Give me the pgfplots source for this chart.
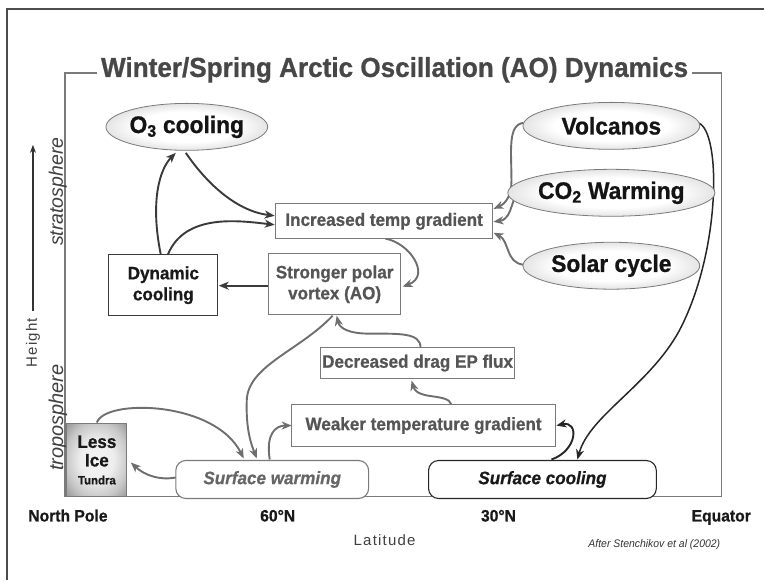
\documentclass[border=0pt]{standalone}
\usepackage{fontspec}
\setmainfont{Liberation Sans}
\newfontfamily\cf[FakeStretch=0.95, BoldFeatures={FakeBold=0.8}, BoldItalicFeatures={FakeBold=0.6}]{Liberation Sans}
\usepackage{pgfplots}
\pgfplotsset{compat=1.18}
\usetikzlibrary{arrows.meta,shapes.geometric}
\definecolor{frame}{HTML}{7A7A7A}
\definecolor{dk}{HTML}{3A3A3A}
\definecolor{gr}{HTML}{6E6E6E}
\definecolor{tx}{HTML}{555555}
\newcommand{\fs}[1]{\fontsize{#1}{#1}\selectfont}
\pgfdeclareradialshading{ellsh}{\pgfpoint{0bp}{0bp}}{color(0bp)=(white); color(16bp)=(white); color(28bp)=(black!14); color(36bp)=(black!32); color(44bp)=(black!45); color(50bp)=(black!50)}
\pgfdeclareradialshading{icesh}{\pgfpoint{0bp}{0bp}}{color(0bp)=(black!4); color(14bp)=(black!7); color(26bp)=(black!22); color(34bp)=(black!38); color(50bp)=(black!50)}
\tikzset{
  ellip/.style={ellipse, draw=frame, line width=0.8pt, inner sep=0pt, shading=ellsh, font=\cf\bfseries\fs{24}, text=black!92},
  bx/.style={draw=frame, line width=1.1pt, fill=white, inner sep=0pt, align=center, font=\cf\bfseries\fs{18}, text=tx},
  da/.style={draw=dk, line width=1.9pt, -{Stealth[length=10pt,width=8pt,inset=3pt]}},
  ga/.style={draw=gr, line width=1.9pt, -{Stealth[length=10pt,width=8pt,inset=3pt]}},
}
\begin{document}
\begin{tikzpicture}
\begin{axis}[
  scale only axis, width=657pt, height=424pt,
  xmin=65, xmax=722, ymin=84, ymax=508,
  axis line style={draw=frame, line width=1.3pt},
  xtick={68,278,499,722}, xticklabels={North Pole,60°N,30°N,Equator},
  ytick=\empty,
  major tick length=0pt,
  xticklabel style={font=\cf\bfseries\fs{16.5}, anchor=base, yshift=-25pt, text=black!90},
  xlabel={Latitude}, ylabel={Height},
  xlabel style={at={(axis description cs:0.487,-0.104)}, anchor=center, font=\fs{15}\addfontfeature{LetterSpace=8}, text=black!75},
  ylabel style={at={(axis description cs:-0.0487,0.363)}, anchor=center, font=\fs{15}\addfontfeature{LetterSpace=8}, text=black!75},
  clip=false,
]
\addplot[draw=none] coordinates {(65,84) (722,508)};
% picture extent and outer frame
\path (axis cs:0,0) rectangle (axis cs:765,581);
\draw[black!70, line width=1.6pt] (axis cs:7,0) -- (axis cs:7,572) -- (axis cs:765,572);
% title
\node[fill=white, inner xsep=4pt, inner ysep=1pt, anchor=base, font=\cf\bfseries\fs{27.5}, text=black!72] at (axis cs:395,504) {Winter/Spring Arctic Oscillation (AO) Dynamics};
% Height arrow
\draw[black!80, line width=1.1pt, -{Stealth[length=8pt,width=6pt]}] (axis cs:33,270) -- (axis cs:33,436);
% layer labels
\node[rotate=90, font=\itshape\fs{19.5}, text=black!75] at (axis cs:58,389) {stratosphere};
\node[rotate=90, font=\itshape\fs{20}, text=black!75] at (axis cs:58,163) {troposphere};
% credit
\node[font=\cf\itshape\fs{11}, text=black!80] at (axis cs:655,36) {After Stenchikov et al (2002)};
% arrows (drawn first so boxes sit on top)
\draw[da] (axis cs:161,326) .. controls (axis cs:150,380) and (axis cs:160,412) .. (axis cs:176,428);
\draw[da] (axis cs:186,428) .. controls (axis cs:205,400) and (axis cs:235,370) .. (axis cs:275,365);
\draw[da] (axis cs:168,326) .. controls (axis cs:185,368) and (axis cs:240,360) .. (axis cs:275,356);
\draw[da] (axis cs:269,295) -- (axis cs:219,295);
\draw[ga] (axis cs:386,342) .. controls (axis cs:410,338) and (axis cs:432,305) .. (axis cs:403,294);
\draw[ga] (axis cs:524,458) .. controls (axis cs:508,456) and (axis cs:512,430) .. (axis cs:512,400) .. controls (axis cs:512,385) and (axis cs:506,377) .. (axis cs:494,372);
\draw[ga] (axis cs:524,391) .. controls (axis cs:510,388) and (axis cs:515,362) .. (axis cs:494,359);
\draw[ga] (axis cs:524,316) .. controls (axis cs:506,318) and (axis cs:510,340) .. (axis cs:494,348);
\draw[black!85, line width=1.5pt, -{Stealth[length=10pt,width=8pt,inset=3pt]}] (axis cs:699,458) .. controls (axis cs:722,450) and (axis cs:722,330) .. (axis cs:680,250) .. controls (axis cs:650,195) and (axis cs:590,165) .. (axis cs:578,121);
\draw[black!85, line width=1.9pt, -{Stealth[length=10pt,width=8pt,inset=3pt]}] (axis cs:552,121) .. controls (axis cs:578,130) and (axis cs:580,160) .. (axis cs:557,155);
\draw[ga] (axis cs:452,176) .. controls (axis cs:448,188) and (axis cs:418,180) .. (axis cs:412,200);
\draw[ga] (axis cs:421,233) .. controls (axis cs:421,248) and (axis cs:400,247) .. (axis cs:370,247) .. controls (axis cs:350,247) and (axis cs:340,252) .. (axis cs:337,265);
\draw[ga] (axis cs:333,265) .. controls (axis cs:300,230) and (axis cs:248,215) .. (axis cs:247,180) .. controls (axis cs:246,150) and (axis cs:252,135) .. (axis cs:257,122);
\draw[ga] (axis cs:97,158) .. controls (axis cs:105,182) and (axis cs:215,180) .. (axis cs:244,122);
\draw[ga] (axis cs:270,121) .. controls (axis cs:266,147) and (axis cs:276,155) .. (axis cs:292,155);
\draw[ga] (axis cs:176,103) .. controls (axis cs:160,100) and (axis cs:145,105) .. (axis cs:131,118);
% ellipses
\node[ellip, minimum width=150pt, minimum height=47pt] at (axis cs:187,454) {O\textsubscript{3} cooling};
\node[ellip, minimum width=177pt, minimum height=47pt] at (axis cs:612,455) {Volcanos};
\node[ellip, minimum width=177pt, minimum height=47pt] at (axis cs:612,388) {CO\textsubscript{2} Warming};
\node[ellip, minimum width=177pt, minimum height=47pt] at (axis cs:612,315) {Solar cycle};
% boxes
\node[bx, minimum width=217pt, minimum height=35pt] at (axis cs:384.5,359.5) {Increased temp gradient};
\node[bx, draw=dk, text=black!90, minimum width=109pt, minimum height=61pt] at (axis cs:163.5,295.5) {Dynamic\\[3pt]cooling};
\node[bx, minimum width=132pt, minimum height=61pt] at (axis cs:335,296.5) {Stronger polar\\[3pt]vortex (AO)};
\node[bx, minimum width=194pt, minimum height=31pt] at (axis cs:418,217.5) {Decreased drag EP flux};
\node[bx, minimum width=264pt, minimum height=42pt] at (axis cs:424,155) {Weaker temperature gradient};
\node[bx, rounded corners=10pt, minimum width=193pt, minimum height=38pt, font=\cf\bfseries\itshape\fs{18}, text=black!60] at (axis cs:272.5,101) {Surface warming};
\node[bx, draw=black!85, rounded corners=10pt, minimum width=228pt, minimum height=38pt, font=\cf\bfseries\itshape\fs{18}, text=black!90] at (axis cs:543,101) {Surface cooling};
\node[draw=frame, line width=1.1pt, inner sep=0pt, minimum width=60pt, minimum height=73pt, shading=icesh, align=center, text=black!90] at (axis cs:97,120.5) {{\cf\bfseries\fs{18}Less}\\[5pt]{\cf\bfseries\fs{18}Ice}\\[6pt]{\cf\bfseries\fs{12}Tundra}};
\end{axis}
\end{tikzpicture}
\end{document}
